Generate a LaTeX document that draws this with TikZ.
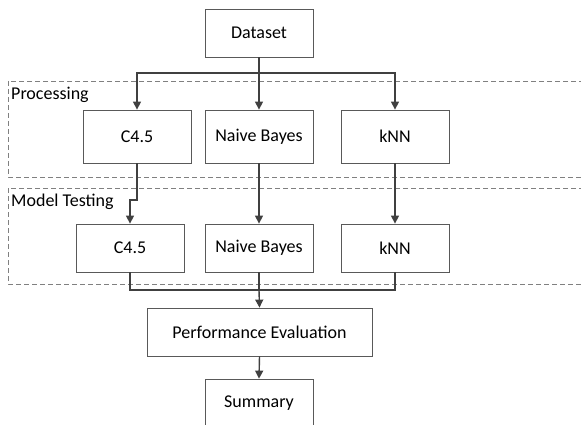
\documentclass[tikz,border=0pt]{standalone}
\usepackage{fontspec}
\setmainfont{Carlito}
\usetikzlibrary{arrows.meta}
\definecolor{linegray}{HTML}{404040}
\definecolor{boxgray}{HTML}{595959}
\definecolor{dashgray}{HTML}{808080}

\begin{document}
\begin{tikzpicture}[x=1pt,y=-1pt,
  stage/.style={draw=boxgray,line width=.8pt,fill=white,minimum width=108pt,
    minimum height=#1,inner sep=0pt,font=\fontsize{18}{20}\selectfont},
  stage/.default=48pt,
  flow/.style={draw=linegray,line width=1.4pt,-{Triangle[length=8pt,width=8pt]}},
  link/.style={draw=linegray,line width=1.4pt},
  group/.style={draw=dashgray,line width=.8pt,dash pattern=on 5pt off 3pt},
  grouplabel/.style={anchor=north west,inner sep=0pt,font=\fontsize{18}{20}\selectfont}]
\useasboundingbox (0,0) rectangle (581,425);
% dashed groups
\draw[group] (8,81) rectangle (600,177);
\draw[group] (8,188) rectangle (600,284);
\node[grouplabel] (proclbl) at (11,87) {Processing};
\node[grouplabel] (testlbl) at (11,194) {Model Testing};
% boxes
\node[stage] (data) at (259,33) {Dataset};
\node[stage=53pt] (pc45) at (137,136.5) {C4.5};
\node[stage=53pt] (pnb) at (259,136.5) {Naive Bayes};
\node[stage=53pt] (pknn) at (395,136.5) {kNN};
\node[stage] (tc45) at (130,248) {C4.5};
\node[stage] (tnb) at (259,248) {Naive Bayes};
\node[stage] (tknn) at (395,248) {kNN};
\node[stage,minimum width=225pt] (perf) at (259.5,332) {Performance Evaluation};
\node[stage] (summ) at (259,403) {Summary};
% branch points
\coordinate (split) at (259,73);
\coordinate (jog) at (137,200);
\coordinate (merge) at (259,290);
% dataset to algorithms
\draw[link] (data.south) -- (split);
\draw[flow] (split) -| (pc45.north);
\draw[flow] (split) -- (pnb.north);
\draw[flow] (split) -| (pknn.north);
% processing to testing
\draw[flow] (pc45.south) -- (jog) -| (tc45.north);
\draw[flow] (pnb.south) -- (tnb.north);
\draw[flow] (pknn.south) -- (tknn.north);
% testing to evaluation
\draw[link] (tc45.south) |- (merge);
\draw[link] (tknn.south) |- (merge);
\draw[link] (tnb.south) -- (merge);
\draw[flow] (merge) -- (perf.north);
\draw[flow] (perf.south) -- (summ.north);
\end{tikzpicture}
\end{document}
